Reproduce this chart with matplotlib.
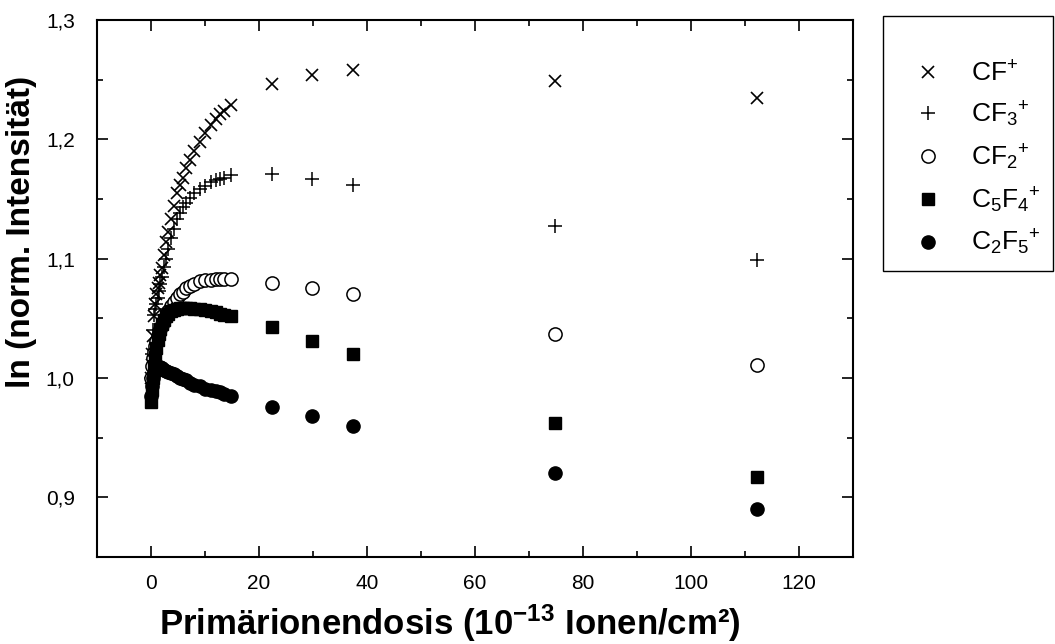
import matplotlib
matplotlib.use("Agg")
import matplotlib.pyplot as plt
from matplotlib.ticker import MultipleLocator, FuncFormatter

plt.rcParams['font.family'] = ['Liberation Sans', 'DejaVu Sans']
plt.rcParams['mathtext.fontset'] = 'custom'
plt.rcParams['mathtext.rm'] = 'Liberation Sans'
plt.rcParams['mathtext.bf'] = 'Liberation Sans:bold'

# dose (10^-13 Ionen/cm²)
dose = [0, 0.2, 0.4, 0.6, 0.8, 1.0, 1.25, 1.5, 1.75, 2.0, 2.4, 2.8, 3.2, 3.7,
        4.2, 4.8, 5.3, 5.9, 6.5, 7.2, 8.0, 9.0, 10.0, 11.1, 12.0, 12.8, 13.6, 14.9,
        22.4, 29.9, 37.4, 74.8, 112.2]

cf = [1.0, 1.02, 1.035, 1.052, 1.062, 1.07, 1.075, 1.08, 1.086, 1.092, 1.103, 1.114,
      1.122, 1.133, 1.144, 1.155, 1.162, 1.168, 1.176, 1.183, 1.19, 1.198, 1.205,
      1.212, 1.217, 1.221, 1.224, 1.229,
      1.246, 1.254, 1.258, 1.249, 1.235]
cf3 = [1.0, 1.02, 1.04, 1.053, 1.058, 1.062, 1.067, 1.073, 1.079, 1.085, 1.093, 1.1,
       1.108, 1.117, 1.125, 1.133, 1.138, 1.143, 1.147, 1.151, 1.155, 1.158, 1.161,
       1.164, 1.166, 1.167, 1.168, 1.170,
       1.171, 1.167, 1.162, 1.127, 1.099]
cf2 = [1.0, 1.01, 1.017, 1.022, 1.027, 1.031, 1.035, 1.038, 1.041, 1.044, 1.049, 1.052,
       1.056, 1.06, 1.064, 1.067, 1.07, 1.072, 1.075, 1.077, 1.079, 1.081, 1.082,
       1.082, 1.083, 1.083, 1.083, 1.083,
       1.080, 1.075, 1.070, 1.037, 1.011]
c5f4 = [0.980, 0.99, 1.0, 1.01, 1.018, 1.025, 1.032, 1.037, 1.041, 1.045, 1.049, 1.052,
        1.054, 1.056, 1.057, 1.058, 1.059, 1.059, 1.059, 1.059, 1.058, 1.058, 1.057,
        1.056, 1.055, 1.054, 1.053, 1.052,
        1.043, 1.031, 1.020, 0.962, 0.917]
c2f5 = [0.985, 0.993, 1.0, 1.004, 1.007, 1.008, 1.009, 1.009, 1.009, 1.008, 1.007, 1.006,
        1.005, 1.004, 1.003, 1.002, 1.0, 0.999, 0.998, 0.996, 0.994, 0.993, 0.991,
        0.99, 0.989, 0.988, 0.987, 0.985,
        0.976, 0.968, 0.960, 0.920, 0.890]

labels = [r"$\mathrm{CF^{+}}$", r"$\mathrm{CF_{3}{}^{+}}$", r"$\mathrm{CF_{2}{}^{+}}$",
          r"$\mathrm{C_{5}F_{4}{}^{+}}$", r"$\mathrm{C_{2}F_{5}{}^{+}}$"]

fig = plt.figure(figsize=(10.55, 6.44), dpi=100)
ax = fig.add_axes([97 / 1055, 1 - 557 / 644, 756 / 1055, 537 / 644])

ax.plot(dose, cf, ls='none', marker='x', ms=9, mew=1.2, color='black', label=labels[0])
ax.plot(dose, cf3, ls='none', marker='+', ms=10, mew=1.1, color='black', label=labels[1])
ax.plot(dose, cf2, ls='none', marker='o', ms=9.5, mew=1.1, mfc='white', color='black', label=labels[2])
ax.plot(dose, c5f4, ls='none', marker='s', ms=8.5, color='black', label=labels[3])
ax.plot(dose, c2f5, ls='none', marker='o', ms=9.5, color='black', label=labels[4])

ax.set_xlim(-10, 130)
ax.set_ylim(0.85, 1.3)
ax.xaxis.set_major_locator(MultipleLocator(20))
ax.xaxis.set_minor_locator(MultipleLocator(10))
ax.yaxis.set_major_locator(MultipleLocator(0.1))
ax.yaxis.set_minor_locator(MultipleLocator(0.05))
ax.yaxis.set_major_formatter(FuncFormatter(lambda v, p: f"{v:.1f}".replace('.', ',')))

for s in ax.spines.values():
    s.set_linewidth(1.5)
ax.tick_params(which='both', direction='in', top=True, right=True, width=1.2, labelsize=15)
ax.tick_params(which='major', length=8)
ax.tick_params(which='minor', length=4)
ax.tick_params(axis='x', pad=12)
ax.tick_params(axis='y', pad=16)

ax.set_xlabel(r"Primärionendosis (10$\mathbf{^{-13}}$ Ionen/cm²)", fontsize=25,
              fontweight='bold')
ax.set_ylabel("ln (norm. Intensität)", fontsize=24, fontweight='bold')
ax.xaxis.set_label_coords((450 - 97) / 756, (557 - 623) / 537)
ax.xaxis.label.set_va('center')
ax.yaxis.set_label_coords((22 - 97) / 756, (557 - 232) / 537)
ax.yaxis.label.set_va('center')

leg = ax.legend(loc='upper left',
                bbox_to_anchor=(883 / 1055, 1 - 16 / 644 - 0.01, 170 / 1055, 0.01),
                bbox_transform=fig.transFigure, mode='expand', borderaxespad=0,
                fancybox=False, edgecolor='black', framealpha=1, fontsize=19,
                borderpad=0.5, labelspacing=0.5, handletextpad=0.4, handlelength=2.43,
                title=" ", title_fontsize=15)
leg.get_frame().set_linewidth(1.0)

fig.savefig("out.png", dpi=100)
